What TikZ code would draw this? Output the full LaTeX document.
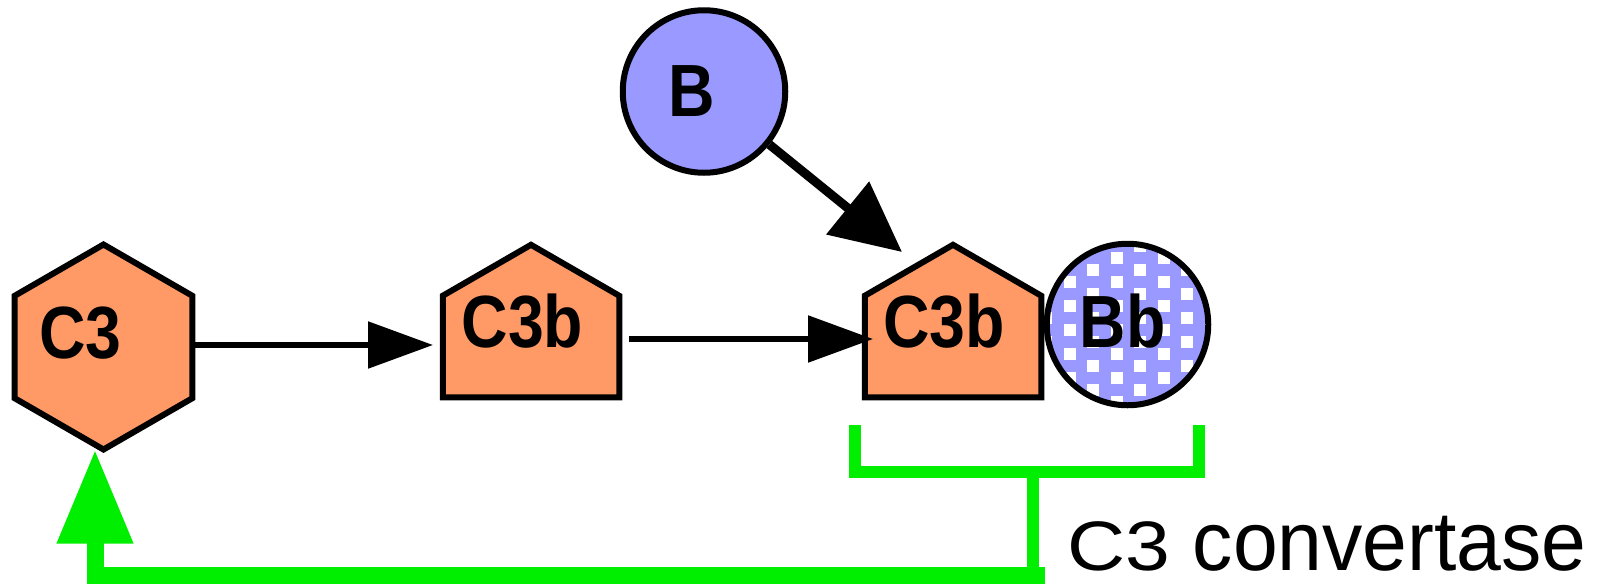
\documentclass[tikz,border=0pt]{standalone}
\usepackage{fontspec}
\setmainfont{Liberation Sans}
\usetikzlibrary{arrows.meta,calc}
\definecolor{c3orange}{RGB}{255,153,102}
\definecolor{bblue}{RGB}{153,153,255}
\definecolor{cgreen}{RGB}{0,238,0}
\begin{document}
\begin{tikzpicture}[x=1pt,y=-1pt,
  shapeline/.style={draw=black, line width=6pt, line join=miter, miter limit=10},
  orangefill/.style={shapeline, fill=c3orange},
  holder/.style={inner sep=0pt, outer sep=0pt, draw=none},
  lbl/.style={inner sep=0pt, outer sep=0pt, anchor=base, font=\fontsize{74}{80}\selectfont\bfseries},
  blackarrow/.style={draw=black, line width=5.5pt, -{Triangle[length=65pt,width=46pt]}},
  bigarrow/.style={draw=black, line width=9pt, -{Triangle[length=70pt,width=66pt]}},
  gline/.style={draw=cgreen, line width=12pt, line join=miter, line cap=butt},
]
\useasboundingbox (0,0) rectangle (1608,584);

% C3 hexagon
\node[holder, minimum width=177.5pt, minimum height=205pt] (c3) at (103.5,347) {};
\draw[orangefill] ($(c3.center)+(0,-102.5)$) -- ++(88.77,51.25) -- ++(0,102.5) -- ++(-88.77,51.25) -- ++(-88.77,-51.25) -- ++(0,-102.5) -- cycle;

% C3b (middle)
\node[holder, minimum width=176.5pt, minimum height=101.5pt] (c3bA) at (531,346.5) {};
\draw[orangefill] (c3bA.south west) -- (c3bA.north west) -- ++(88.25,-50.95) -- (c3bA.north east) -- (c3bA.south east) -- cycle;

% C3b (right)
\node[holder, minimum width=176.5pt, minimum height=101.5pt] (c3bB) at (953,346.5) {};
\draw[orangefill] (c3bB.south west) -- (c3bB.north west) -- ++(88.25,-50.95) -- (c3bB.north east) -- (c3bB.south east) -- cycle;

% B circle
\node[circle, shapeline, fill=bblue, inner sep=0pt, minimum size=162.5pt] (b) at (704,91.5) {};

% Bb circle with checker pattern
\node[circle, fill=bblue, inner sep=0pt, outer sep=0pt, minimum size=161.5pt] (bb) at (1127.5,324.5) {};
\begin{scope}
  \clip (bb.center) circle[radius=80.75];
  \foreach \i in {-3,...,9} \foreach \j in {-8,...,4} {
    \fill[white] ({1087+23.5*(\i+\j)},{264+12*(\i-\j)}) rectangle ++(12,12);
  }
\end{scope}
\draw[shapeline] (bb.center) circle[radius=80.75];

% labels
\node[lbl] (c3l) at (80.5,358) {\scalebox{0.87}[1]{C3}};
\node[lbl] (c3bAl) at (522.5,347) {\scalebox{0.87}[1]{C3b}};
\node[lbl] (c3bBl) at (944,347) {\scalebox{0.87}[1]{C3b}};
\node[lbl] (bbl) at (1122.5,347) {\scalebox{0.87}[1]{Bb}};
\node[lbl] (bl) at (692,116) {\scalebox{0.87}[1]{B}};
\node[inner sep=0pt, outer sep=0pt, anchor=base, font=\fontsize{70}{72}\selectfont] (convl) at (1327,570) {\scalebox{1.15}[1]{C3 }\scalebox{1.15}[1.2]{convertase}};

% black connectors
\draw[blackarrow] ([yshift=2pt]c3.east) -- ([xshift=-9.75pt,yshift=1.5pt]c3bA.west);
\draw[blackarrow] ([xshift=10pt,yshift=7.5pt]c3bA.east) -- ([xshift=8.25pt,yshift=7.5pt]c3bB.west);
\coordinate (btip) at (902,252);
\draw[bigarrow] (b) -- (btip);

% green bracket and feedback connector
\coordinate (brL) at (855,425);
\coordinate (brR) at (1199,425);
\draw[gline] (brL) -- ++(0,47) -| (brR);
\coordinate (conv) at (1033,472);
\coordinate (jn) at (1033,575.5);
\draw[gline] (conv) -- (jn);
\draw[gline, line width=17pt, -{Triangle[length=94pt,width=72pt]}] ([xshift=12pt]jn) -| ([xshift=-8.5pt]c3.south);
\end{tikzpicture}
\end{document}
